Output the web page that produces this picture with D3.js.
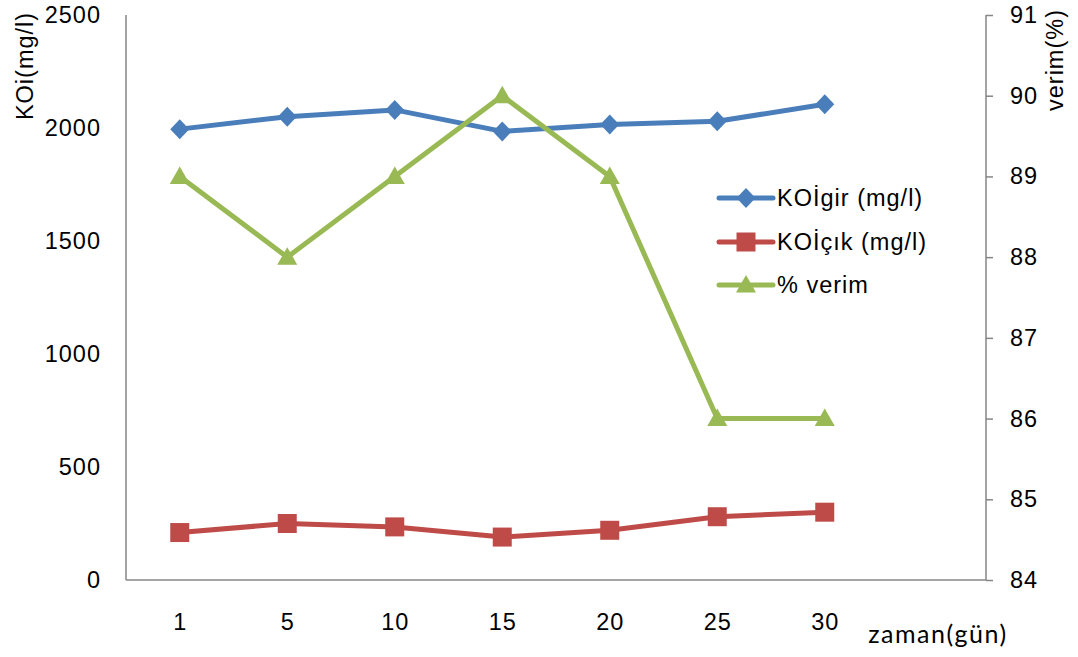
<!DOCTYPE html>
<html>
<head>
<meta charset="utf-8">
<script src="https://cdn.jsdelivr.net/npm/d3@7"></script>
<style>
  html, body { margin: 0; padding: 0; background: #fff; }
  svg { display: block; }
  text { font-family: "Liberation Sans", Arial, sans-serif; fill: #000; }
</style>
</head>
<body>
<svg id="chart" width="1078" height="657"></svg>
<script>
// Time points (days)
const days = ["1", "5", "10", "15", "20", "25", "30"];
// COD influent (mg/l)
const koiGir = [1995, 2050, 2080, 1985, 2015, 2030, 2105];
// COD effluent (mg/l)
const koiCik = [210, 250, 235, 190, 220, 280, 300];
// Removal efficiency (%)
const verim = [89, 88, 89, 90, 89, 86, 86];

const leftTicks = [0, 500, 1000, 1500, 2000, 2500];
const rightTicks = [84, 85, 86, 87, 88, 89, 90, 91];
const seriesNames = ["KOİgir (mg/l)", "KOİçık (mg/l)", "% verim"];

const m = { left: 126, right: 986, top: 15, bottom: 580 };
const svg = d3.select("#chart");
const FS = 23.5, LS = 1;

const slots = days.concat([""]); // one trailing empty slot on the category axis
const x = d3.scaleBand().domain(d3.range(slots.length)).range([m.left, m.right]).padding(0);
const cx = i => x(i) + x.bandwidth() / 2;
const yL = d3.scaleLinear().domain([0, 2500]).range([m.bottom, m.top]);
const yR = d3.scaleLinear().domain([84, 91]).range([m.bottom, m.top]);

const axisColor = "#868686";

// Left axis
const gL = svg.append("g").attr("transform", `translate(${m.left},0)`)
  .call(d3.axisLeft(yL).tickValues(leftTicks).tickSize(0).tickPadding(25).tickFormat(d3.format("d")));
// Right axis
const gR = svg.append("g").attr("transform", `translate(${m.right},0)`)
  .call(d3.axisRight(yR).tickValues(rightTicks).tickSize(7).tickPadding(17).tickFormat(d3.format("d")));
// Bottom axis
const gB = svg.append("g").attr("transform", `translate(0,${m.bottom})`)
  .call(d3.axisBottom(x).tickValues(d3.range(days.length)).tickSize(0).tickPadding(33)
    .tickFormat(i => days[i]));

[gL, gR, gB].forEach(g => {
  g.select(".domain").attr("stroke", axisColor).attr("stroke-width", 1.5);
  g.selectAll(".tick line").attr("stroke", axisColor).attr("stroke-width", 1.5);
  g.selectAll(".tick text").attr("font-size", FS).attr("letter-spacing", LS)
    .attr("font-family", "Liberation Sans, Arial, sans-serif").attr("fill", "#000");
});
gB.selectAll(".tick text").attr("dx", LS / 2);
// straight domain paths without outer ticks
gL.select(".domain").attr("d", `M0,${m.top}V${m.bottom}`);
gR.select(".domain").attr("d", `M0,${m.top}V${m.bottom}`);
gB.select(".domain").attr("d", `M${m.left},0H${m.right}`);

// Axis titles
svg.append("text").attr("transform", `translate(33,66) rotate(-90)`)
  .attr("text-anchor", "middle").attr("font-size", FS).attr("letter-spacing", LS).text("KOi(mg/l)");
svg.append("text").attr("transform", `translate(1063,60) rotate(-90)`)
  .attr("text-anchor", "middle").attr("font-size", FS).attr("letter-spacing", LS).text("verim(%)");
svg.append("text").attr("x", 938).attr("y", 643)
  .attr("text-anchor", "middle").attr("font-size", 25).attr("letter-spacing", 1.5)
  .style("font-family", "Lato, 'Open Sans', sans-serif").text("zaman(gün)");

const colors = ["#4A7EBB", "#BE4B48", "#98B954"];

function markerPath(k) {
  if (k === 0) return "M0,-10L9.5,0L0,10L-9.5,0Z";
  if (k === 1) return "M-9.5,-9.5H9.5V9.5H-9.5Z";
  return "M0,-10L10,7.5L-10,7.5Z";
}

const series = [
  { vals: koiGir, y: yL },
  { vals: koiCik, y: yL },
  { vals: verim, y: yR }
];

series.forEach((s, k) => {
  const line = d3.line().x((d, i) => cx(i)).y(d => s.y(d));
  svg.append("path").datum(s.vals).attr("d", line)
    .attr("fill", "none").attr("stroke", colors[k]).attr("stroke-width", 5)
    .attr("stroke-linejoin", "round");
  svg.append("g").selectAll("path").data(s.vals).join("path")
    .attr("transform", (d, i) => `translate(${cx(i)},${s.y(d)})`)
    .attr("d", markerPath(k)).attr("fill", colors[k]);
});

// Legend
const legend = svg.append("g");
const legY = [198, 242, 285];
seriesNames.forEach((name, k) => {
  const g = legend.append("g").attr("transform", `translate(0,${legY[k]})`);
  g.append("line").attr("x1", 719).attr("x2", 773).attr("y1", 0).attr("y2", 0)
    .attr("stroke", colors[k]).attr("stroke-width", 5).attr("stroke-linecap", "round");
  g.append("path").attr("transform", "translate(746,0)").attr("d", markerPath(k)).attr("fill", colors[k]);
  g.append("text").attr("x", 777).attr("y", 0).attr("dy", "0.36em")
    .attr("font-size", FS).attr("letter-spacing", LS).text(name);
});
</script>
</body>
</html>
